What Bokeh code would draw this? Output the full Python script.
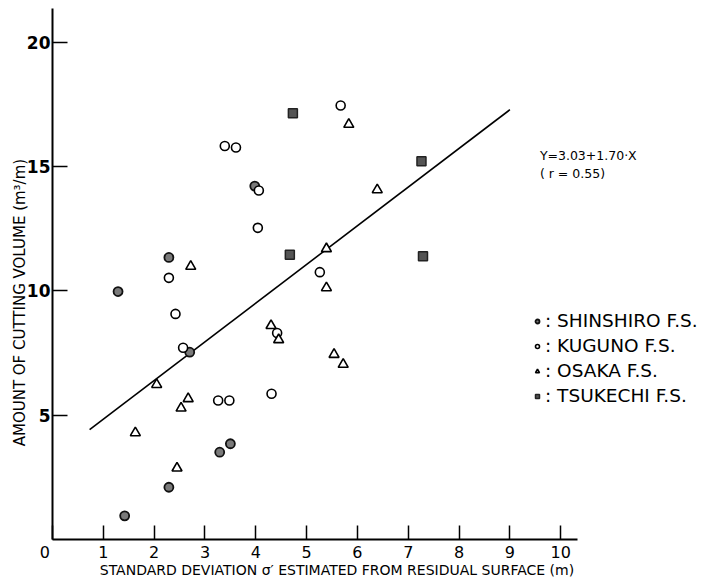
import math
from bokeh.plotting import figure
from bokeh.models import Range1d, FixedTicker, Label, Legend, LegendItem
from bokeh.embed import file_html
from bokeh.resources import INLINE

# ---- data ----
shinshiro_x = [1.29, 2.29, 1.42, 2.29, 3.29, 3.50, 2.70, 3.98]
shinshiro_y = [9.97, 11.34, 0.95, 2.10, 3.51, 3.85, 7.53, 14.21]

kuguno_x = [2.29, 2.42, 2.57, 3.26, 3.48, 3.39, 3.61, 5.67, 4.06, 4.04, 5.26, 4.42, 4.31]
kuguno_y = [10.52, 9.07, 7.71, 5.59, 5.59, 15.82, 15.76, 17.45, 14.03, 12.53, 10.75, 8.30, 5.86]

osaka_x = [2.72, 2.05, 2.67, 2.53, 1.63, 2.45, 5.83, 6.39, 5.39, 5.39, 4.30, 4.45, 5.54, 5.72]
osaka_y = [10.98, 6.23, 5.66, 5.28, 4.29, 2.87, 16.69, 14.06, 11.69, 10.12, 8.60, 8.03, 7.44, 7.04]

tsukechi_x = [4.73, 7.26, 4.67, 7.29]
tsukechi_y = [17.14, 15.21, 11.45, 11.39]

fit_x = [0.73, 9.0]
fit_y = [4.42, 17.28]

x_ticks = [0, 1, 2, 3, 4, 5, 6, 7, 8, 9, 10]
y_ticks = [5, 10, 15, 20]

legend_labels = [": SHINSHIRO F.S.", ": KUGUNO F.S.", ": OSAKA F.S.", ": TSUKECHI F.S."]
equation_lines = ["Y=3.03+1.70\u00b7X", "( r = 0.55)"]
x_title = "STANDARD DEVIATION \u03c3\u2032 ESTIMATED FROM RESIDUAL SURFACE (m)"
y_title = "AMOUNT OF CUTTING VOLUME (m\u00b3/m)"

FONT = "DejaVu Sans"
NB = "\u00a0"

p = figure(width=701, height=580, output_backend="svg", toolbar_location=None,
           x_range=Range1d(0, 12.77), y_range=Range1d(0, 21.35),
           min_border_left=52, min_border_right=0, min_border_top=8,
           min_border_bottom=41)
p.outline_line_color = None
p.grid.visible = False
p.background_fill_color = "white"
p.border_fill_color = "white"

# axes
for ax in (p.xaxis[0], p.yaxis[0]):
    ax.axis_line_width = 2
    ax.axis_line_color = "black"
    ax.major_tick_line_width = 1.5
    ax.major_tick_line_color = "black"
    ax.major_tick_out = 0
    ax.minor_tick_out = 0
    ax.minor_tick_in = 0
    ax.minor_tick_line_color = None
    ax.major_label_text_color = "black"
    ax.major_label_text_font = FONT
    ax.axis_label_text_font = FONT
    ax.axis_label_text_font_style = "normal"
    ax.axis_label_text_color = "black"

p.xaxis.bounds = (0, 10.33)
p.xaxis.ticker = FixedTicker(ticks=x_ticks)
p.xaxis.major_label_overrides = {0: "0" + NB * 3}
p.xaxis.major_tick_in = 14
p.xaxis.major_label_text_font_size = "16px"
p.xaxis.major_label_standoff = 3
p.xaxis.axis_label = x_title + NB * 18
p.xaxis.axis_label_text_font_size = "14px"
p.xaxis.axis_label_standoff = -3

p.yaxis.ticker = FixedTicker(ticks=y_ticks)
p.yaxis.major_tick_in = 15
p.yaxis.major_label_text_font_size = "17px"
p.yaxis.major_label_text_font_style = "bold"
p.yaxis.major_label_standoff = 2
p.yaxis.axis_label = y_title + NB * 12
p.yaxis.axis_label_text_font_size = "15px"
p.yaxis.axis_label_standoff = -5

# regression line
p.line(fit_x, fit_y, line_color="black", line_width=1.6)

# points
r_sh = p.scatter(shinshiro_x, shinshiro_y, marker="circle", size=9,
                 fill_color="#7a7a7a", line_color="#111111", line_width=1.8)
r_ku = p.scatter(kuguno_x, kuguno_y, marker="circle", size=9,
                 fill_color="white", line_color="black", line_width=1.6)
r_os = p.scatter(osaka_x, osaka_y, marker="triangle", size=10,
                 fill_color="white", line_color="black", line_width=1.6)
r_ts = p.scatter(tsukechi_x, tsukechi_y, marker="square", size=9,
                 fill_color="#555555", line_color="#222222", line_width=1.5)

legend = Legend(items=[LegendItem(label=legend_labels[0], renderers=[r_sh]),
                       LegendItem(label=legend_labels[1], renderers=[r_ku]),
                       LegendItem(label=legend_labels[2], renderers=[r_os]),
                       LegendItem(label=legend_labels[3], renderers=[r_ts])],
                location=(480, 133), orientation="vertical",
                border_line_color=None, background_fill_alpha=0,
                padding=0, margin=0, spacing=4,
                glyph_width=10, glyph_height=20, label_height=20,
                label_standoff=3,
                label_text_font=FONT, label_text_font_size="18.5px",
                label_text_color="black")
p.add_layout(legend, "center")

# equation
p.add_layout(Label(x=9.59, y=15.44, text=equation_lines[0], text_font=FONT,
                   text_font_size="12.5px", text_align="left",
                   text_baseline="middle", text_color="black"))
p.add_layout(Label(x=9.59, y=14.73, text=equation_lines[1], text_font=FONT,
                   text_font_size="12.5px", text_align="left",
                   text_baseline="middle", text_color="black"))

open("out.html", "w").write(file_html(p, INLINE))
